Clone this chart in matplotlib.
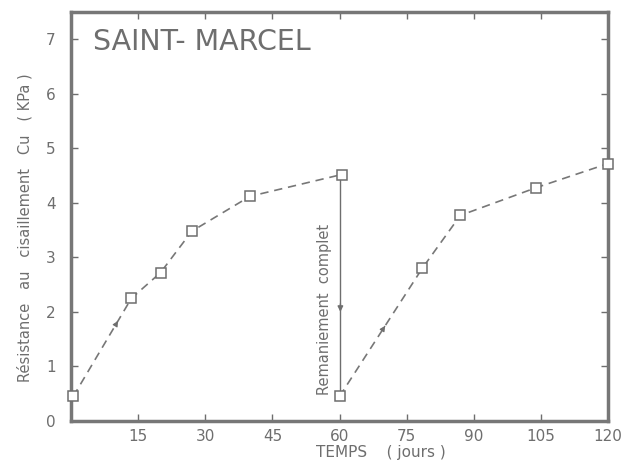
import matplotlib
matplotlib.use("Agg")
import matplotlib.pyplot as plt
import numpy as np

# Data
t1 = [0.5, 13.5, 20, 27, 40, 60.5]
cu1 = [0.45, 2.25, 2.72, 3.48, 4.12, 4.52]
t2 = [60, 78.5, 87, 104, 120]
cu2 = [0.45, 2.8, 3.77, 4.28, 4.72]
xticks = [15, 30, 45, 60, 75, 90, 105, 120]
yticks = [0, 1, 2, 3, 4, 5, 6, 7]

col = "#6e6e6e"
plt.rcParams['font.family'] = ['DejaVu Sans']

fig = plt.figure(figsize=(6.37, 4.74), dpi=100)
ax = fig.add_axes([71/637, 1 - 421/474, (608-71)/637, (421-12)/474])
ax.set_xlim(0, 120)
ax.set_ylim(0, 7.5)

for t, c in [(t1, cu1), (t2, cu2)]:
    ax.plot(t, c, linestyle=(0, (5, 3.5)), color='#777777', lw=1.2,
            marker='s', markersize=7.5, markerfacecolor='white',
            markeredgecolor=col, markeredgewidth=1.1, clip_on=False, zorder=3)

# vertical remaniement line
ax.plot([60.2, 60.2], [cu1[-1] - 0.1, cu2[0] + 0.1], color=col, lw=1.0, zorder=2)
ax.annotate('', xy=(60.2, 1.95), xytext=(60.2, 2.2),
            arrowprops=dict(arrowstyle='-|>', color=col, lw=1.0, mutation_scale=8))
# arrows on dashed segments
def seg_arrow(p0, p1, frac):
    x = p0[0] + (p1[0] - p0[0]) * frac
    y = p0[1] + (p1[1] - p0[1]) * frac
    dx = (p1[0] - p0[0]) * 0.02
    dy = (p1[1] - p0[1]) * 0.02
    ax.annotate('', xy=(x + dx, y + dy), xytext=(x - dx, y - dy),
                arrowprops=dict(arrowstyle='-|>', color=col, lw=0.8, mutation_scale=8))
seg_arrow((t1[0], cu1[0]), (t1[1], cu1[1]), 0.75)
seg_arrow((t2[0], cu2[0]), (t2[1], cu2[1]), 0.55)

ax.text(56.6, 2.05, 'Remaniement  complet', rotation=90, ha='center', va='center',
        color=col, fontsize=10.5)
ax.text(5, 6.95, 'SAINT- MARCEL', color=col, fontsize=20.5, ha='left', va='center')

ax.set_xticks(xticks)
ax.set_yticks(yticks)
ax.set_yticklabels([str(v) for v in yticks])
ax.tick_params(direction='in', length=5, width=1, colors=col, labelsize=11,
               top=True, right=True, labeltop=False, labelright=False, pad=6)
ax.tick_params(axis='y', pad=11)
for s in ax.spines.values():
    s.set_linewidth(2.5)
    s.set_color('#777777')

fig.text(381/637, 1 - 453/474, 'TEMPS    ( jours )', color=col, fontsize=11,
         ha='center', va='center')
fig.text(25/637, 1 - 228/474, 'Résistance   au   cisaillement   Cu   ( KPa )',
         rotation=90, color=col, fontsize=10.5, ha='center', va='center')

fig.savefig('out.png', dpi=100)
